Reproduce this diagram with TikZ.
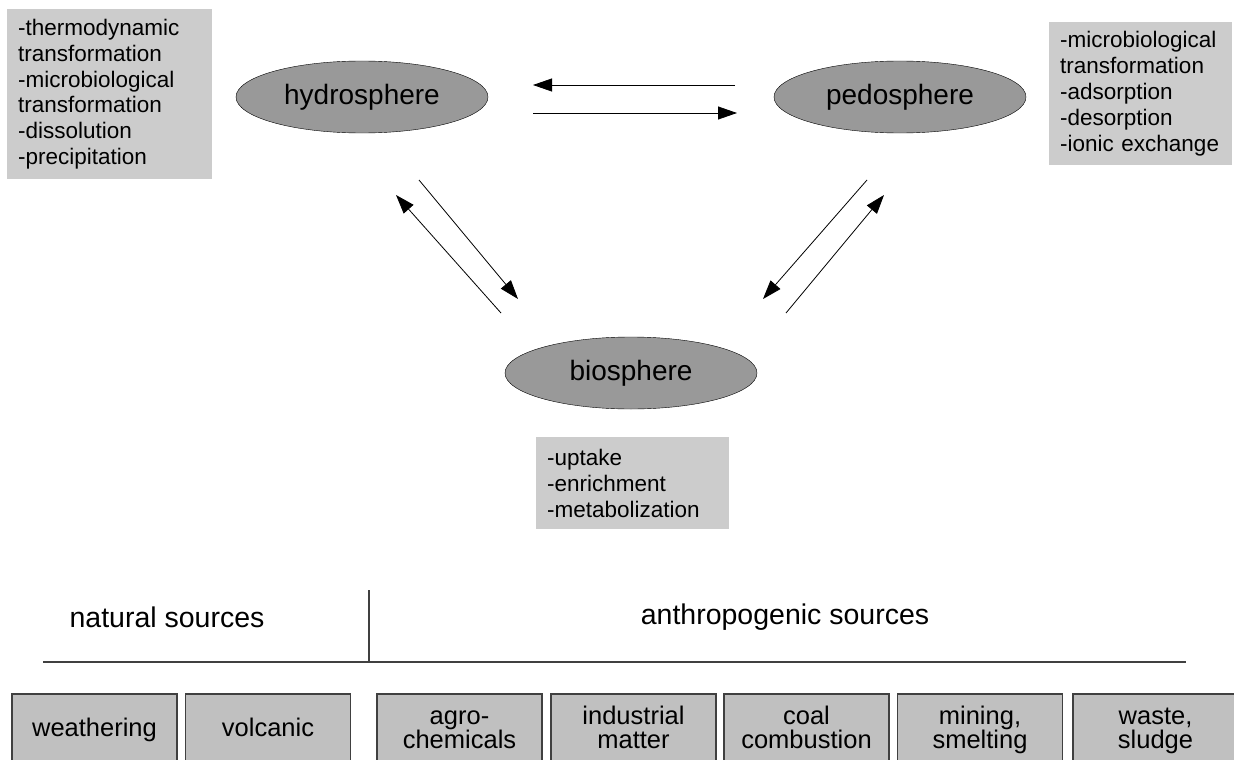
\documentclass[tikz,border=0pt]{standalone}
\usepackage{fontspec}
\setmainfont{Liberation Sans}
\usetikzlibrary{shapes.geometric,arrows.meta}
\definecolor{sphere}{HTML}{999999}
\definecolor{note}{HTML}{CCCCCC}
\definecolor{source}{HTML}{C0C0C0}
\definecolor{rule}{HTML}{404040}

\begin{document}
\begin{tikzpicture}[x=1pt,y=-1pt]
\tikzset{SphereStyle/.style =
	{draw,
		shape = ellipse,
		fill = sphere,
		minimum width = 252pt,
		minimum height = 72pt,
		inner sep = 0pt,
		font = \fontsize{28}{32}\selectfont},
	NoteStyle/.style =
	{fill = note,
		anchor = north west,
		align = left,
		inner xsep = 11pt,
		inner ysep = 0pt,
		font = \fontsize{22.5}{25.8}\selectfont},
	SourceStyle/.style =
	{draw = rule,
		fill = source,
		line width = 1.4pt,
		minimum width = 165pt,
		minimum height = 70pt,
		text height = 19pt,
		text depth = 5pt,
		align = center,
		font = \fontsize{25.5}{24}\selectfont},
	TwoLineStyle/.style = {SourceStyle, text height = 43pt},
	HeadStyle/.style = {font = \fontsize{28.5}{32}\selectfont},
	FlowStyle/.style = {line width = 0.8pt, -{Triangle[length=19pt,width=13pt]}}}
\useasboundingbox (0,0) rectangle (1234,760);
\clip (0,0) rectangle (1234,760);
% spheres
\node[SphereStyle] (hydro) at (362,97) {hydrosphere};
\node[SphereStyle] (pedo) at (900,97) {pedosphere};
\node[SphereStyle] (bio) at (631,373) {biosphere};
% processes
\node[NoteStyle, text width = 183pt, minimum height = 170pt] (hydronote) at (7,9)
	{-thermodynamic\\transformation\\-microbiological\\transformation\\-dissolution\\-precipitation};
\node[NoteStyle, text width = 161pt, minimum height = 143pt] (pedonote) at (1049,22)
	{-microbiological\\transformation\\-adsorption\\-desorption\\-ionic exchange};
\node[NoteStyle, text width = 171pt, minimum height = 92pt] (bionote) at (536,437)
	{-uptake\\-enrichment\\-metabolization};
% fluxes
\coordinate (hp1) at (735,85); \coordinate (hp2) at (533,85);
\coordinate (hp3) at (533,113); \coordinate (hp4) at (737,113);
\coordinate (hb1) at (501,313); \coordinate (hb2) at (396,195);
\coordinate (hb3) at (419,180); \coordinate (hb4) at (518,299);
\coordinate (pb1) at (867,180); \coordinate (pb2) at (763,299);
\coordinate (pb3) at (786,313); \coordinate (pb4) at (884,195);
\draw[FlowStyle] (hp1) -- (hp2);
\draw[FlowStyle] (hp3) -- (hp4);
\draw[FlowStyle] (hb1) -- (hb2);
\draw[FlowStyle] (hb3) -- (hb4);
\draw[FlowStyle] (pb1) -- (pb2);
\draw[FlowStyle] (pb3) -- (pb4);
% sources
\node[HeadStyle] (natural) at (167,617) {natural sources};
\node[HeadStyle] (anthro) at (785,617) {anthropogenic sources};
\draw[rule, line width = 1.4pt] (43,662) -- (1186,662);
\draw[rule, line width = 1.4pt] (369,590) -- (369,662);
\node[SourceStyle] (weather) at (94.5,729) {weathering};
\node[SourceStyle] (volcano) at (268,729) {volcanic};
\node[TwoLineStyle] (agro) at (459.5,729) {agro-\\chemicals};
\node[TwoLineStyle] (industry) at (633.5,729) {industrial\\matter};
\node[TwoLineStyle] (coal) at (806.5,729) {coal\\combustion};
\node[TwoLineStyle] (mining) at (980,729) {mining,\\smelting};
\node[TwoLineStyle] (waste) at (1155.5,729) {waste,\\sludge};
\end{tikzpicture}
\end{document}
